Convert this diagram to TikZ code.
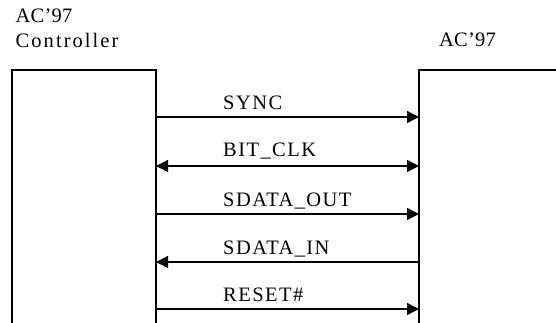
\documentclass[tikz,border=0pt]{standalone}
\usepackage{fontspec}
\setmainfont{Liberation Serif}
\newfontfamily\lblfont[LetterSpace=7]{Liberation Serif}
\newfontfamily\widefont[LetterSpace=10]{Liberation Serif}
\newfontfamily\tight[LetterSpace=1]{Liberation Serif}
\usetikzlibrary{arrows.meta}
\begin{document}
\begin{tikzpicture}[x=1pt,y=-1pt,
  boxline/.style={line width=1.5pt},
  sig/.style={line width=1.5pt,-{Triangle[length=12pt,width=12pt]}},
  sigboth/.style={line width=1.5pt,{Triangle[length=12pt,width=12pt]}-{Triangle[length=12pt,width=12pt]}},
  lbl/.style={anchor=base west,inner sep=0pt,font={\lblfont\fontsize{20.5}{24}\selectfont}},
  wide/.style={anchor=base west,inner sep=0pt,font={\widefont\fontsize{20.5}{24}\selectfont}},
  ttl/.style={anchor=base west,inner sep=0pt,font={\tight\fontsize{20.5}{24}\selectfont}}]
\useasboundingbox (0,0) rectangle (556,323);
% boxes
\draw[boxline] (12,323) -- (12,70) -- (156,70) -- (156,323);
\draw[boxline] (419,323) -- (419,70) -- (556,70);
% titles
\node[ttl] (t1) at (15.5,22.7) {AC’97};
\node[wide] (t2) at (15.5,48) {Controller};
\node[ttl] (t3) at (439,46.7) {AC’97};
% connector end points
\foreach \n/\y in {1/117,2/166,3/214,4/262,5/309}{
  \coordinate (L\n) at (156,\y);
  \coordinate (R\n) at (419,\y);
}
\draw[sig] (L1) -- (R1);
\draw[sigboth] (L2) -- (R2);
\draw[sig] (L3) -- (R3);
\draw[sig] (R4) -- (L4);
\draw[sig] (L5) -- (R5);
% labels
\node[lbl] (s1) at (223,110) {SYNC};
\node[lbl] (s2) at (223,157) {BIT\_CLK};
\node[lbl] (s3) at (223,206) {SDATA\_OUT};
\node[lbl] (s4) at (223,254) {SDATA\_IN};
\node[lbl] (s5) at (223,301.5) {RESET\#};
\end{tikzpicture}
\end{document}
